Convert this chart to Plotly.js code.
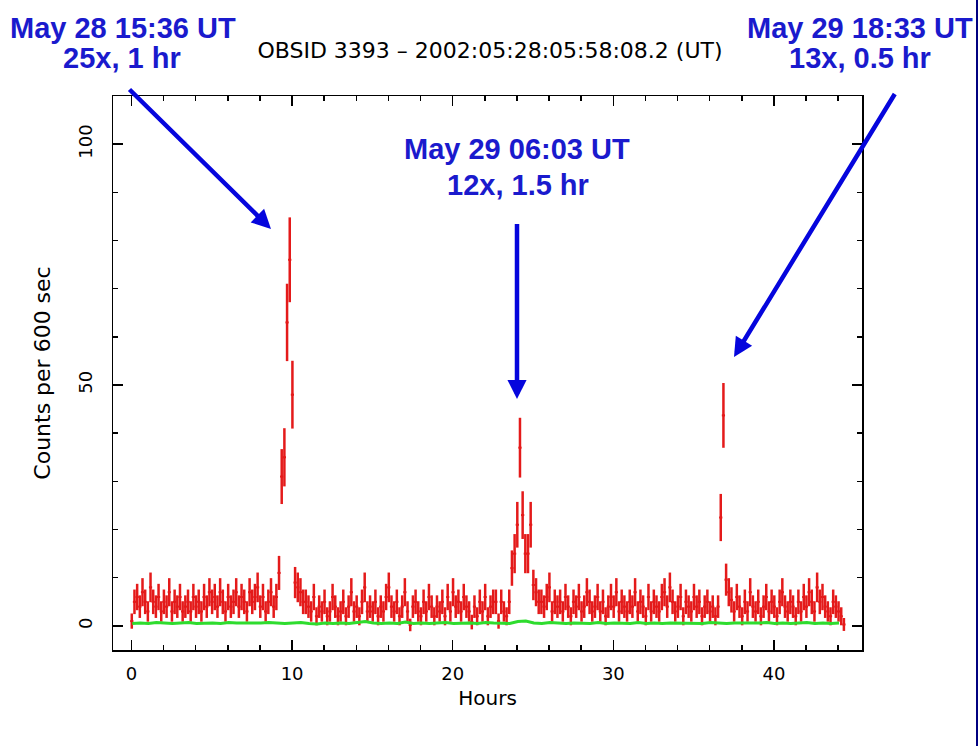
<!DOCTYPE html>
<html>
<head>
<meta charset="utf-8">
<script src="https://cdn.plot.ly/plotly-3.0.1.min.js"></script>
<style>
  html, body { margin: 0; padding: 0; background: #ffffff; }
  #chart { width: 979px; height: 746px; }
</style>
</head>
<body>
<div id="chart"></div>
<script>
// ---- Data ----
const binHours = 600 / 3600;   // 600-sec bins
const startHour = 0.02;

// Source counts per 600 s bin (red points with error bars)
const counts = [
  1,5,6,4,7,5,      3,8,5,4,6,3,      5,4,7,3,5,4,
  6,3,4,5,3,6,      4,5,3,6,4,7,      5,6,4,7,5,3,
  6,4,5,7,4,6,      5,3,7,5,6,8,      4,6,3,5,7,4,
  6,11,31,35,63,76, 48,9,8,7,5,5,     4,3,6,2,4,3,
  5,2,3,6,4,2,      3,5,2,4,7,3,      4,2,5,8,3,4,
  3,5,2,4,3,6,      8,4,3,5,2,4,      7,3,0.2,4,5,3,
  2,5,3,6,4,2,      4,3,5,2,6,3,      7,4,5,3,6,4,
  3,0.8,4,2,5,3,    6,2,4,5,5,1,      5,3,2,5,12,15,
  21,37,23,15,15,21, 8.5,7,5,5,4,6,   8,3,5,4,5,3,
  6,4,2,5,4,6,      3,4,7,5,3,4,      6,3,5,2,4,6,
  4,7,3,5,4,3,      5,4,7,3,5,4,      2,6,3,5,4,3,
  6,7,4,8,5,3,      4,6,2,5,4,3,      6,4,5,2,4,5,
  3,4,2,4,22.5,43.7, 9.6,7,5.4,3,6,4, 2,5,3,7,4,3,
  5,2,4,6,3,5,      4,2,5,7,4,3,      5,4,2,5,3,6,
  4,7,5,3,8,5,      6,4,3,2,5,4,      3,2,0.3
];

// Background counts (green line), one value every half hour
const bkgStep = 0.5;
const bkgStart = 0.05;
const background = [
  0.5,0.6,0.5,0.7,0.6,0.5,0.6,0.7,0.5,0.6,
  0.6,0.5,0.7,0.6,0.6,0.5,0.6,0.7,0.6,0.5,
  0.6,0.7,0.5,0.4,0.6,0.5,0.6,0.5,0.7,0.9,
  0.6,0.5,0.6,0.5,0.8,0.5,0.6,0.5,0.6,0.7,
  0.5,0.6,0.6,0.5,0.7,0.6,0.6,0.5,0.9,1.0,
  0.6,0.5,0.7,0.6,0.5,0.6,0.6,0.5,0.7,0.5,
  0.6,0.6,0.5,0.7,0.5,0.6,0.5,0.6,0.6,0.5,
  0.6,0.5,0.7,0.6,0.5,0.6,0.6,0.5,0.6,0.7,
  0.5,0.6,0.5,0.6,0.7,0.5,0.6,0.5,0.6
];

const titleText = "OBSID 3393 \u2013 2002:05:28:05:58:08.2 (UT)";
const xTitle = "Hours";
const yTitle = "Counts per 600 sec";
const flareLabels = [
  ["May 28 15:36 UT", "25x, 1 hr"],
  ["May 29 06:03 UT", "12x, 1.5 hr"],
  ["May 29 18:33 UT", "13x, 0.5 hr"]
];

// ---- Derived arrays ----
const hours = counts.map((_, i) => startHour + i * binHours);
const errs = counts.map(v => Math.sqrt(Math.max(v, 0) + 1.5));
const bkgHours = background.map((_, i) => bkgStart + i * bkgStep);

const red = '#e41a1a';
const green = '#2edc2e';
const txtBlue = '#1a1acd';
const arrowBlue = '#0505dd';

const traces = [
  {
    type: 'scatter', mode: 'markers',
    x: hours, y: counts,
    marker: { color: red, size: 2 },
    error_y: { type: 'data', array: errs, visible: true, color: red, thickness: 2.5, width: 0 },
    error_x: { type: 'constant', value: 0.1, visible: true, color: red, thickness: 2, width: 0 },
    hoverinfo: 'x+y', showlegend: false
  },
  {
    type: 'scatter', mode: 'lines',
    x: bkgHours, y: background,
    line: { color: green, width: 3 },
    showlegend: false
  }
];

// plot area in pixels: x 113..862, y 96..650
const L = 113, R = 862, T = 96, B = 650;
const px = v => (v - L) / (R - L);
const py = v => (B - v) / (B - T);

const textFont = { family: 'Liberation Sans, Arial, sans-serif', size: 29, color: txtBlue, weight: 700 };
function label(text, x, y) {
  return { text: text, xref: 'paper', yref: 'paper', x: px(x), y: py(y),
           xanchor: 'center', yanchor: 'middle', showarrow: false, font: textFont };
}
function arrow(tipX, tipY, tailX, tailY) {
  return { text: ' ', xref: 'paper', yref: 'paper', x: px(tipX), y: py(tipY),
           ax: tailX - tipX, ay: tailY - tipY, axref: 'pixel', ayref: 'pixel',
           showarrow: true, arrowhead: 2, arrowsize: 0.85, arrowwidth: 4.5,
           arrowcolor: arrowBlue, standoff: 0, startstandoff: 0, font: { size: 1 } };
}

const annotations = [
  label(flareLabels[0][0], 122.5, 28),
  label(flareLabels[0][1], 121.5, 58),
  label(flareLabels[1][0], 517, 149),
  label(flareLabels[1][1], 517.5, 185),
  label(flareLabels[2][0], 860, 28),
  label(flareLabels[2][1], 860, 58),
  arrow(271, 229, 128, 88),
  arrow(517, 399, 517, 222),
  arrow(734, 357, 896, 92)
];

const axisCommon = {
  ticks: 'inside', ticklen: 10, tickwidth: 1.5, tickcolor: '#000',
  showline: true, linewidth: 1.5, linecolor: '#000', mirror: 'ticks',
  showgrid: false, zeroline: false,
  tickfont: { family: 'DejaVu Sans, sans-serif', size: 18, color: '#000' }
};

const layout = {
  width: 979, height: 746,
  margin: { l: L, r: 979 - R, t: T, b: 746 - B, pad: 0 },
  paper_bgcolor: '#fff', plot_bgcolor: '#fff',
  title: {
    text: titleText, xref: 'container', yref: 'container',
    x: 490 / 979, y: 1 - 50 / 746, xanchor: 'center', yanchor: 'middle',
    font: { family: 'DejaVu Sans, sans-serif', size: 22, color: '#000' }
  },
  xaxis: Object.assign({}, axisCommon, {
    range: [-1.15, 45.48], tick0: 0, dtick: 10,
    minor: { dtick: 2, tick0: 0, ticks: 'inside', ticklen: 5, tickwidth: 1.5, tickcolor: '#000', showgrid: false },
    ticklabelstandoff: 7,
    title: { text: xTitle, standoff: 8, font: { family: 'DejaVu Sans, sans-serif', size: 20, color: '#000' } }
  }),
  yaxis: Object.assign({}, axisCommon, {
    range: [-5, 110], tick0: 0, dtick: 50, tickangle: -90,
    minor: { dtick: 10, tick0: 0, ticks: 'inside', ticklen: 5, tickwidth: 1.5, tickcolor: '#000', showgrid: false },
    ticklabelstandoff: 12,
    title: { text: yTitle, standoff: 18, font: { family: 'DejaVu Sans, sans-serif', size: 22, color: '#000' } }
  }),
  shapes: [
    { type: 'line', xref: 'paper', yref: 'paper', x0: px(977), x1: px(977), y0: py(0), y1: py(746),
      line: { color: '#000080', width: 2 } }
  ],
  annotations: annotations,
  showlegend: false
};

Plotly.newPlot('chart', traces, layout, { displayModeBar: false, staticPlot: true });
</script>
</body>
</html>
